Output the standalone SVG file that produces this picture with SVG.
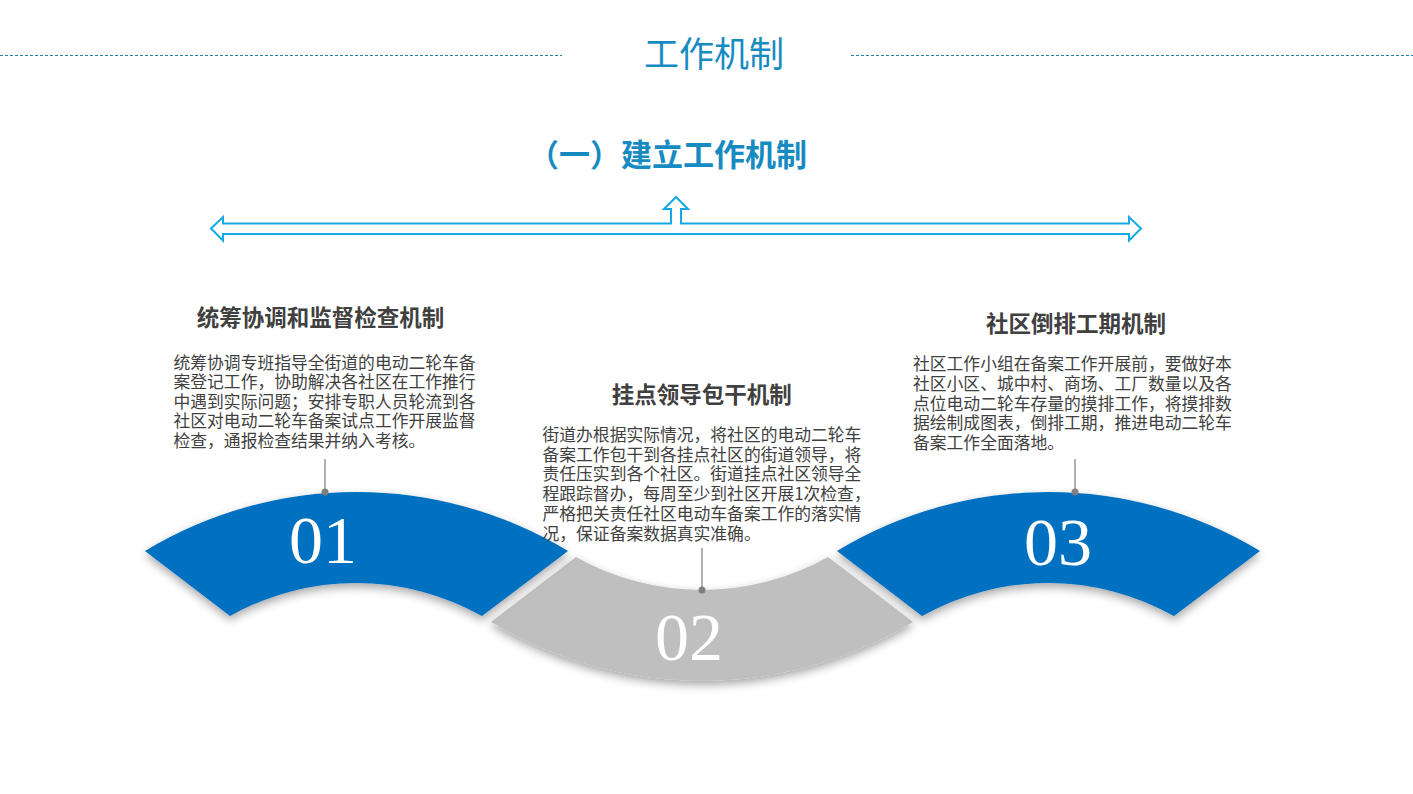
<svg xmlns="http://www.w3.org/2000/svg" width="1413" height="794" viewBox="0 0 1413 794">
<style>
.cjk{font-family:"Noto Sans CJK SC","Noto Sans",sans-serif;}
.title{fill:#168bc2;}
.head{fill:#404040;font-weight:bold;font-size:22.5px;text-anchor:middle;}
.body{fill:#404040;font-size:16.8px;}
.num{font-family:"Liberation Serif","DejaVu Serif",serif;font-size:68px;fill:#ffffff;text-anchor:middle;}
.blue{fill:#0070c0;filter:url(#sh);}
.gray{fill:#bfbfbf;filter:url(#sh);}
.lead{stroke:#7f7f7f;stroke-width:1.2;fill:none;}
.dot{fill:#7f7f7f;}
.dash{stroke:#2a7fa6;stroke-width:1;stroke-dasharray:3 2;}
</style>
<defs>
<filter id="sh" x="-20%" y="-30%" width="140%" height="170%">
<feDropShadow dx="0" dy="4" stdDeviation="5" flood-color="#000" flood-opacity="0.35"/>
</filter>
</defs>
<rect width="1413" height="794" fill="#ffffff"/>

<g id="header">
<line class="dash" x1="0" y1="55.5" x2="562" y2="55.5"/>
<line class="dash" x1="851" y1="55.5" x2="1413" y2="55.5"/>
<text class="cjk title" x="714" y="67" font-size="35" text-anchor="middle">工作机制</text>
<text class="cjk title" x="807" y="166" font-size="31" font-weight="bold" text-anchor="end">（一）建立工作机制</text>
</g>

<g id="arrow">
<path d="M211,228.5 L223,217 L223,223.5 L671,223.5 L671,209 L664,209 L676,197 L688,209 L681,209 L681,223.5 L1129,223.5 L1129,217 L1141,228.5 L1129,240.5 L1129,234 L223,234 L223,240.5 Z" fill="#ffffff" stroke="#14a9e6" stroke-width="2" stroke-linejoin="miter"/>
</g>

<g id="node-02">
<path class="gray" d="M491,622 L576,557 A257,257 0 0 0 828,557 L913,622 A408.6,408.6 0 0 1 491,622 Z"/>
<text class="num" x="689" y="660">02</text>
</g>

<g id="node-01">
<path class="blue" d="M145,551 A408.6,408.6 0 0 1 568,551 L482,616 A257,257 0 0 0 230,616 Z"/>
<text class="num" x="323" y="563">01</text>
</g>

<g id="node-03">
<path class="blue" d="M837,551 A408.6,408.6 0 0 1 1260,551 L1174,616 A257,257 0 0 0 922,616 Z"/>
<text class="num" x="1058" y="565">03</text>
</g>

<g id="connectors">
<line class="lead" x1="325" y1="459" x2="325" y2="492"/>
<circle class="dot" cx="325" cy="492" r="3.5"/>
<line class="lead" x1="702" y1="548" x2="702" y2="590"/>
<circle class="dot" cx="702" cy="590" r="3.5"/>
<line class="lead" x1="1075" y1="459" x2="1075" y2="492"/>
<circle class="dot" cx="1075" cy="492" r="3.5"/>
</g>

<g id="text-01">
<text class="cjk head" x="320.5" y="326">统筹协调和监督检查机制</text>
<text class="cjk body"><tspan x="173.5" y="368.5">统筹协调专班指导全街道的电动二轮车备</tspan><tspan x="173.5" y="388">案登记工作，协助解决各社区在工作推行</tspan><tspan x="173.5" y="407.7">中遇到实际问题；安排专职人员轮流到各</tspan><tspan x="173.5" y="427.3">社区对电动二轮车备案试点工作开展监督</tspan><tspan x="173.5" y="447">检查，通报检查结果并纳入考核。</tspan></text>
</g>

<g id="text-02">
<text class="cjk head" x="701.7" y="403">挂点领导包干机制</text>
<text class="cjk body"><tspan x="542.5" y="441">街道办根据实际情况，将社区的电动二轮车</tspan><tspan x="542.5" y="460.7">备案工作包干到各挂点社区的街道领导，将</tspan><tspan x="542.5" y="480.4">责任压实到各个社区。街道挂点社区领导全</tspan><tspan x="542.5" y="500.1">程跟踪督办，每周至少到社区开展1次检查，</tspan><tspan x="542.5" y="519.8">严格把关责任社区电动车备案工作的落实情</tspan><tspan x="542.5" y="539.5">况，保证备案数据真实准确。</tspan></text>
</g>

<g id="text-03">
<text class="cjk head" x="1076" y="332">社区倒排工期机制</text>
<text class="cjk body"><tspan x="913" y="370">社区工作小组在备案工作开展前，要做好本</tspan><tspan x="913" y="389.8">社区小区、城中村、商场、工厂数量以及各</tspan><tspan x="913" y="409.6">点位电动二轮车存量的摸排工作，将摸排数</tspan><tspan x="913" y="429.4">据绘制成图表，倒排工期，推进电动二轮车</tspan><tspan x="913" y="449.2">备案工作全面落地。</tspan></text>
</g>
</svg>
